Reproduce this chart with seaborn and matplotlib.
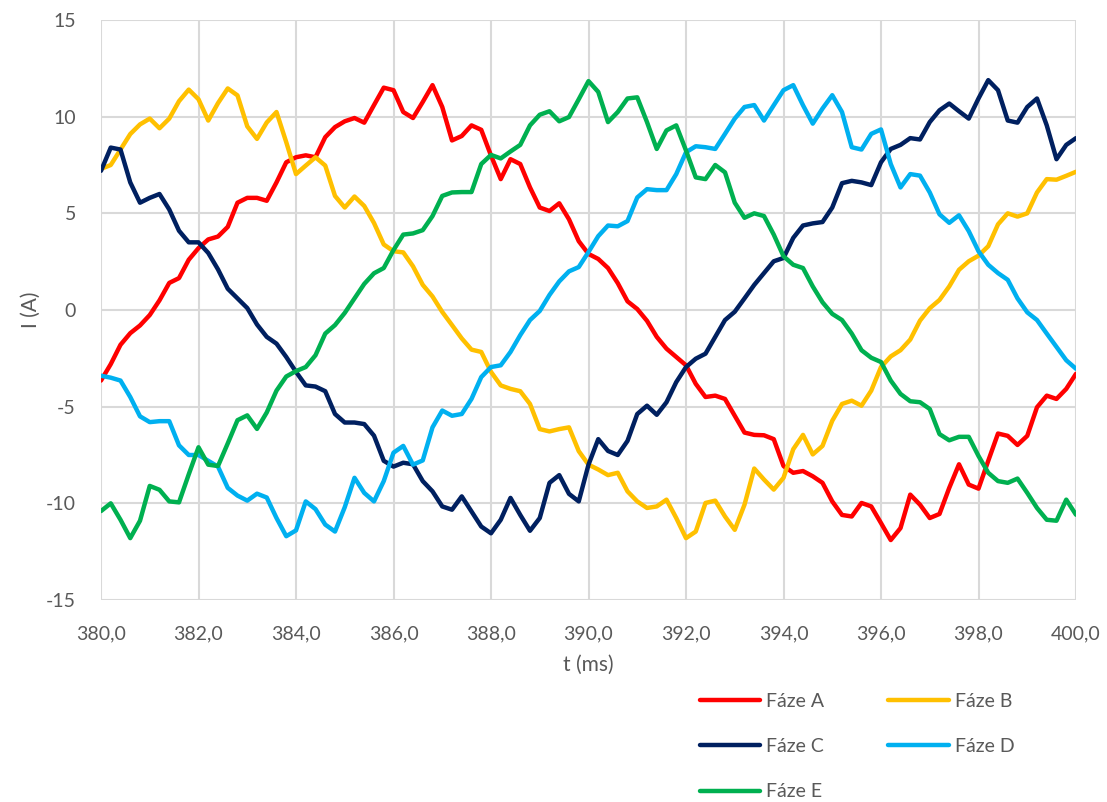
import numpy as np
import pandas as pd
import matplotlib
matplotlib.use("Agg")
import matplotlib.pyplot as plt
import seaborn as sns
from matplotlib.ticker import FuncFormatter, MultipleLocator

sns.set_style("white")
plt.rcParams['font.family'] = ['Lato', 'DejaVu Sans']
plt.rcParams['axes.unicode_minus'] = False

# samples every 0.2 ms, 380..400 ms
t_ms = np.linspace(380, 400, 101)

faze_a = [-3.65, -2.8, -1.8, -1.2, -0.8, -0.26, 0.5, 1.4, 1.65, 2.6,
          3.2, 3.65, 3.8, 4.3, 5.55, 5.8, 5.8, 5.65, 6.6, 7.64,
          7.9, 8.0, 7.9, 8.94, 9.46, 9.76, 9.93, 9.69, 10.6, 11.5,
          11.37, 10.24, 9.93, 10.76, 11.63, 10.5, 8.77, 9.0, 9.55, 9.32,
          7.99, 6.77, 7.8, 7.55, 6.34, 5.3, 5.12, 5.52, 4.69, 3.56,
          2.9, 2.64, 2.17, 1.39, 0.45, 0.05, -0.56, -1.39, -2.0, -2.43,
          -2.86, -3.82, -4.5, -4.43, -4.6, -5.47, -6.34, -6.46, -6.48, -6.68,
          -8.07, -8.42, -8.33, -8.6, -8.94, -9.9, -10.6, -10.68, -9.98, -10.16,
          -11.02, -11.9, -11.28, -9.55, -10.07, -10.76, -10.55, -9.2, -7.98, -9.03,
          -9.24, -7.8, -6.39, -6.51, -6.98, -6.51, -5.03, -4.43, -4.6, -4.08,
          -3.3]

faze_b = [7.3, 7.5, 8.3, 9.1, 9.6, 9.9, 9.4, 9.9, 10.8, 11.4,
          10.9, 9.8, 10.7, 11.46, 11.1, 9.5, 8.85, 9.7, 10.24, 8.68,
          7.03, 7.47, 7.9, 7.47, 5.9, 5.3, 5.87, 5.38, 4.5, 3.39,
          3.04, 2.98, 2.26, 1.3, 0.7, -0.1, -0.78, -1.47, -2.05, -2.17,
          -3.2, -3.9, -4.08, -4.2, -4.86, -6.16, -6.28, -6.16, -6.07, -7.3,
          -8.0, -8.25, -8.54, -8.42, -9.38, -9.9, -10.24, -10.16, -9.81, -10.76,
          -11.8, -11.46, -9.98, -9.86, -10.68, -11.37, -10.07, -8.2, -8.77, -9.29,
          -8.68, -7.2, -6.46, -7.47, -7.03, -5.73, -4.86, -4.69, -4.95, -4.17,
          -2.95, -2.4, -2.08, -1.53, -0.55, 0.09, 0.52, 1.22, 2.08, 2.52,
          2.81, 3.3, 4.43, 5.0, 4.83, 5.0, 6.08, 6.77, 6.74, 6.94,
          7.15]

faze_c = [7.2, 8.4, 8.3, 6.6, 5.55, 5.8, 6.0, 5.2, 4.1, 3.5,
          3.5, 2.95, 2.1, 1.1, 0.6, 0.1, -0.75, -1.39, -1.74, -2.43,
          -3.2, -3.9, -3.96, -4.2, -5.38, -5.82, -5.82, -5.9, -6.5, -7.8,
          -8.1, -7.9, -7.98, -8.85, -9.38, -10.16, -10.33, -9.64, -10.42, -11.2,
          -11.55, -10.85, -9.72, -10.6, -11.42, -10.76, -8.94, -8.54, -9.51, -9.9,
          -8.0, -6.68, -7.29, -7.5, -6.77, -5.38, -4.95, -5.42, -4.77, -3.73,
          -2.95, -2.52, -2.26, -1.39, -0.52, -0.09, 0.6, 1.3, 1.91, 2.52,
          2.69, 3.73, 4.37, 4.48, 4.55, 5.3, 6.56, 6.68, 6.6, 6.46,
          7.64, 8.33, 8.54, 8.89, 8.82, 9.72, 10.33, 10.68, 10.28, 9.9,
          10.94, 11.89, 11.37, 9.8, 9.69, 10.5, 10.94, 9.55, 7.8, 8.54,
          8.89]

faze_d = [-3.4, -3.5, -3.65, -4.5, -5.5, -5.8, -5.75, -5.75, -7.0, -7.5,
          -7.5, -7.8, -8.1, -9.2, -9.6, -9.86, -9.5, -9.7, -10.76, -11.7,
          -11.4, -9.9, -10.3, -11.1, -11.46, -10.2, -8.68, -9.46, -9.9, -8.85,
          -7.38, -7.03, -8.0, -7.78, -6.07, -5.2, -5.47, -5.38, -4.6, -3.47,
          -2.95, -2.86, -2.17, -1.3, -0.52, -0.05, 0.78, 1.48, 2.0, 2.22,
          3.0, 3.82, 4.37, 4.33, 4.6, 5.82, 6.25, 6.2, 6.2, 7.03,
          8.16, 8.47, 8.42, 8.33, 9.11, 9.9, 10.5, 10.6, 9.8, 10.59,
          11.37, 11.63, 10.59, 9.64, 10.42, 11.11, 10.24, 8.42, 8.3, 9.11,
          9.34, 7.55, 6.34, 7.03, 6.95, 6.08, 4.95, 4.51, 4.9, 4.08,
          3.04, 2.34, 1.91, 1.56, 0.6, -0.12, -0.52, -1.22, -1.91, -2.6,
          -3.04]

faze_e = [-10.4, -10.0, -10.85, -11.8, -10.9, -9.1, -9.3, -9.9, -9.95, -8.5,
          -7.1, -8.0, -8.07, -6.9, -5.7, -5.45, -6.15, -5.3, -4.17, -3.44,
          -3.16, -2.95, -2.34, -1.22, -0.78, -0.15, 0.6, 1.35, 1.9, 2.17,
          3.1, 3.9, 3.96, 4.13, 4.86, 5.9, 6.08, 6.1, 6.1, 7.55,
          8.02, 7.84, 8.2, 8.54, 9.55, 10.1, 10.28, 9.76, 9.98, 10.9,
          11.84, 11.28, 9.72, 10.24, 10.94, 11.0, 9.72, 8.33, 9.29, 9.55,
          8.25, 6.86, 6.77, 7.5, 7.12, 5.55, 4.77, 5.0, 4.86, 3.9,
          2.78, 2.34, 2.17, 1.22, 0.4, -0.2, -0.52, -1.22, -2.08, -2.47,
          -2.69, -3.65, -4.34, -4.72, -4.77, -5.12, -6.42, -6.74, -6.56, -6.56,
          -7.55, -8.42, -8.85, -8.94, -8.72, -9.46, -10.24, -10.85, -10.9, -9.81,
          -10.59]

phases = ['Fáze A', 'Fáze B', 'Fáze C', 'Fáze D', 'Fáze E']
colors = ['#FF0000', '#FFC000', '#002060', '#00B0F0', '#00B050']

df = pd.concat([
    pd.DataFrame({'t': t_ms, 'I': vals, 'faze': name})
    for name, vals in zip(phases, [faze_a, faze_b, faze_c, faze_d, faze_e])
])

fig = plt.figure(figsize=(11.07, 8.02), dpi=100)
ax = fig.add_axes([101 / 1107, 202 / 802, 975 / 1107, 580 / 802])

sns.lineplot(data=df, x='t', y='I', hue='faze', hue_order=phases,
             palette=colors, linewidth=3.2, ax=ax, legend=False)

ax.set_xlim(380, 400)
ax.set_ylim(-15, 15)
ax.xaxis.set_major_locator(MultipleLocator(2))
ax.yaxis.set_major_locator(MultipleLocator(5))
ax.xaxis.set_major_formatter(FuncFormatter(lambda v, _: f"{v:.1f}".replace('.', ',')))
ax.yaxis.set_major_formatter(FuncFormatter(lambda v, _: f"{v:.0f}"))
ax.grid(True, color='#d9d9d9', linewidth=1.5)
ax.set_axisbelow(True)
for s in ax.spines.values():
    s.set_visible(False)
ax.tick_params(length=0, labelsize=14, labelcolor='#595959', pad=18)

ax.set_xlabel('t (ms)', fontsize=15, color='#595959')
ax.set_ylabel('I (A)', fontsize=15, color='#595959')
ax.xaxis.set_label_coords(0.5, -0.095)
ax.yaxis.set_label_coords(-0.062, 0.5)

# legend laid out row by row: A B / C D / E
lines = ax.get_lines()[:5]
order = [0, 2, 4, 1, 3]
fig.legend([lines[i] for i in order], [phases[i] for i in order],
           loc='upper left', bbox_to_anchor=(700 / 1107, 1 - 693 / 802),
           ncol=2, frameon=False, fontsize=14, labelcolor='#595959',
           handlelength=3.1, handletextpad=0.3, columnspacing=3.3,
           labelspacing=1.45, borderpad=0, borderaxespad=0)

fig.savefig('out.png', dpi=100)
